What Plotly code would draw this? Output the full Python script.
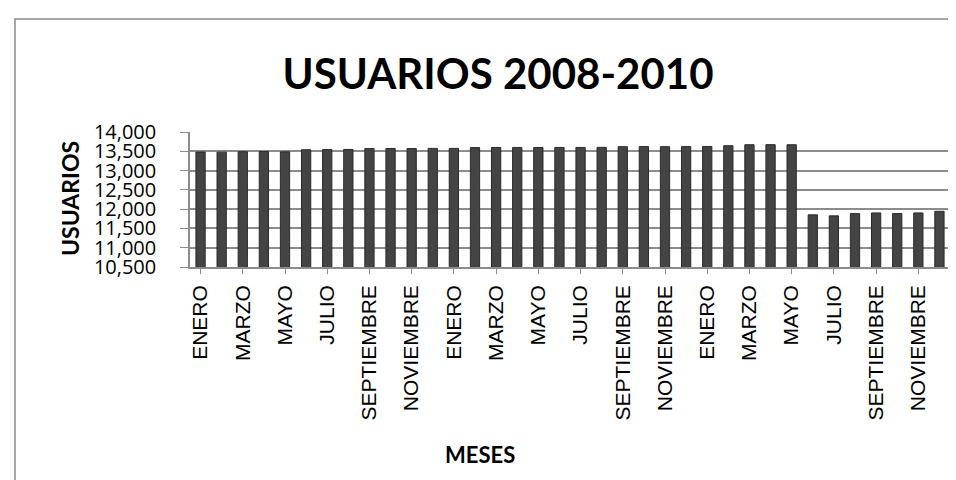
import plotly.graph_objects as go

# ---- data ----
months = ["ENERO", "FEBRERO", "MARZO", "ABRIL", "MAYO", "JUNIO",
          "JULIO", "AGOSTO", "SEPTIEMBRE", "OCTUBRE", "NOVIEMBRE", "DICIEMBRE"]
years = ["2008", "2009", "2010"]

usuarios_2008 = [13480, 13478, 13490, 13492, 13485, 13540, 13545, 13548, 13570, 13572, 13570, 13575]
usuarios_2009 = [13575, 13595, 13598, 13600, 13598, 13600, 13600, 13602, 13620, 13622, 13620, 13622]
usuarios_2010 = [13625, 13645, 13670, 13672, 13670, 11852, 11826, 11885, 11902, 11885, 11902, 11944]

y_ticks = [10500, 11000, 11500, 12000, 12500, 13000, 13500, 14000]

title_text = "USUARIOS 2008-2010"
x_title = "MESES"
y_title = "USUARIOS"

# ---- build ----
categories = [f"{m} {y}" for y in years for m in months]
values = usuarios_2008 + usuarios_2009 + usuarios_2010
tick_vals = categories[::2]
tick_text = [c.split(" ")[0] for c in tick_vals]

W, H = 956, 480
L, R, T, B = 182, 14, 124, 221
pw, ph = W - L - R, H - T - B

def px_x(x):
    return (x - L) / pw

def px_y(y):
    return (H - B - y) / ph

fig = go.Figure(go.Bar(
    x=categories, y=values,
    marker=dict(color="#444444", line=dict(color="#2b2b2b", width=1)),
    hoverinfo="x+y",
))

fig.update_layout(
    width=W, height=H,
    margin=dict(l=L, r=R, t=T, b=B, pad=0),
    paper_bgcolor="white", plot_bgcolor="white",
    bargap=0.56, showlegend=False,
    font=dict(family="Lato, sans-serif", color="black"),
    title=dict(text=f"<b>{title_text}</b>", x=490 / W, xanchor="center",
               y=1 - 66 / H, yanchor="middle",
               font=dict(family="Lato, sans-serif", size=42, color="black")),
)

fig.update_xaxes(
    type="category", categoryorder="array", categoryarray=categories,
    tickmode="array", tickvals=tick_vals, ticktext=tick_text,
    tickangle=-90, tickfont=dict(family="Liberation Sans, Arial, sans-serif", size=21, color="black"),
    showgrid=False, showline=True, linecolor="#8c8c8c", linewidth=1.5,
    ticks="outside", ticklen=5, tickcolor="#8c8c8c",
    ticklabelstandoff=3,
)

fig.update_yaxes(
    range=[10500, 14000], tickmode="array", tickvals=y_ticks,
    tickformat=",d",
    tickfont=dict(family="Open Sans, sans-serif", size=20, color="black"),
    showgrid=True, gridcolor="#8c8c8c", gridwidth=1.5,
    showline=True, linecolor="#8c8c8c", linewidth=1.5,
    ticks="outside", ticklen=8, tickcolor="#8c8c8c",
    ticklabelstandoff=20, zeroline=False,
)

fig.add_annotation(text=f"<b>{y_title}</b>", textangle=-90,
                   xref="paper", yref="paper", x=px_x(62), y=px_y(191),
                   showarrow=False, xanchor="center", yanchor="middle",
                   font=dict(family="Lato, sans-serif", size=23, color="black"))
fig.add_annotation(text=f"<b>{x_title}</b>",
                   xref="paper", yref="paper", x=px_x(472), y=px_y(446),
                   showarrow=False, xanchor="center", yanchor="middle",
                   font=dict(family="Lato, sans-serif", size=22, color="black"))

fig.add_shape(type="rect", xref="paper", yref="paper",
              x0=px_x(7), x1=px_x(949), y0=px_y(476), y1=px_y(11),
              line=dict(color="#8c8c8c", width=1.5), fillcolor="rgba(0,0,0,0)",
              layer="below")

fig.write_html("out.html")
